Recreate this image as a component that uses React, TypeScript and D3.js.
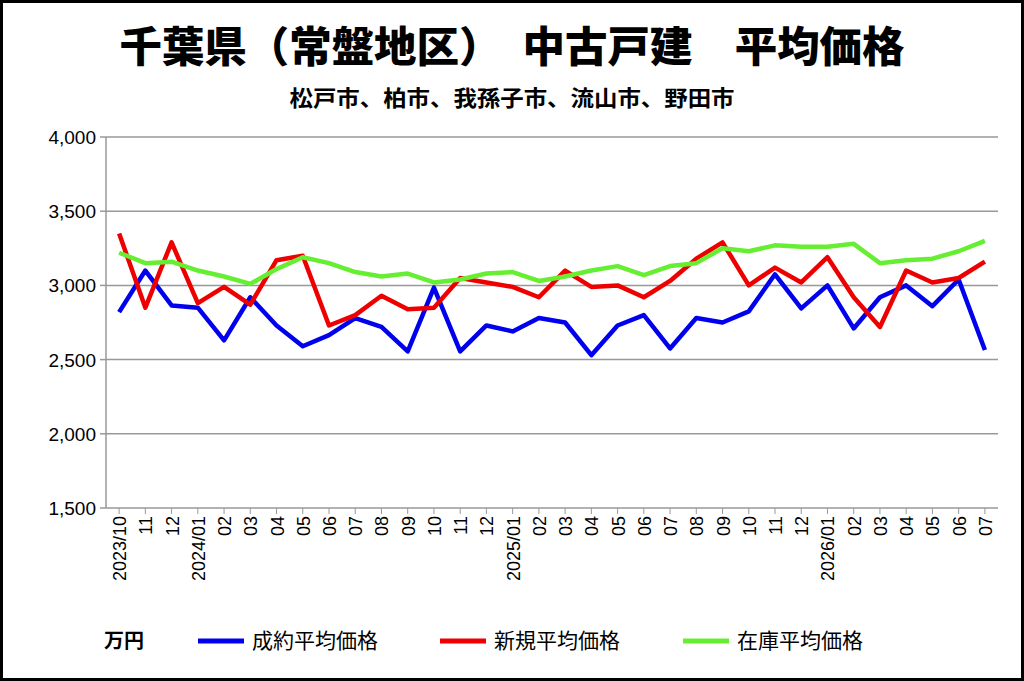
import React from "react";
import * as d3 from "d3";

const months = ["2023/10","11","12","2024/01","02","03","04","05","06","07","08","09","10","11","12","2025/01","02","03","04","05","06","07","08","09","10","11","12","2026/01","02","03","04","05","06","07"];
const seiyaku = [2820,3100,2865,2850,2630,2920,2730,2590,2665,2780,2720,2555,2985,2555,2730,2690,2780,2750,2530,2730,2800,2575,2780,2750,2825,3075,2845,3000,2710,2920,3000,2860,3040,2565];
const shinki = [3350,2850,3290,2880,2990,2870,3170,3200,2730,2800,2930,2840,2850,3050,3020,2990,2920,3100,2990,3000,2920,3030,3180,3290,3000,3120,3020,3190,2920,2720,3100,3020,3050,3160];
const zaiko = [3220,3150,3160,3100,3060,3010,3110,3190,3150,3090,3060,3080,3020,3040,3080,3090,3030,3060,3100,3130,3070,3130,3150,3250,3230,3270,3260,3260,3280,3150,3170,3180,3230,3300];
const yTicks = [1500,2000,2500,3000,3500,4000];
const seriesList = [
  { name: "成約平均価格", values: seiyaku, color: "#0000ee" },
  { name: "新規平均価格", values: shinki, color: "#ee0000" },
  { name: "在庫平均価格", values: zaiko, color: "#66ee33" },
];

export default function App() {
  const W = 1024, H = 681;
  const L = 106, R = 998, T = 137, B = 508;
  const x = d3.scalePoint<number>().domain(months.map((_, i) => i)).range([L, R]).padding(0.5);
  const y = d3.scaleLinear().domain([1500, 4000]).range([B, T]);
  const line = (vals: number[]) => d3.line<number>().x((_, i) => x(i)!).y(v => y(v))(vals)!;
  const fmt = d3.format(",");
  const font = "'Noto Sans CJK JP', 'Noto Sans', sans-serif";
  const legX = [198, 440, 683];
  return (
    <svg width={W} height={H} style={{ position: "absolute", left: 0, top: 0 }} fontFamily={font}>
      <rect x={0} y={0} width={W} height={H} fill="#fff" />
      <rect x={1.5} y={1.5} width={W - 3} height={H - 3} fill="none" stroke="#000" strokeWidth={3} />
      <text x={512} y={62} textAnchor="middle" fontSize={42} fontWeight="900" textLength={785} lengthAdjust="spacingAndGlyphs">千葉県（常盤地区）　中古戸建　平均価格</text>
      <text x={512} y={106} textAnchor="middle" fontSize={22} fontWeight="bold" textLength={445} lengthAdjust="spacingAndGlyphs">松戸市、柏市、我孫子市、流山市、野田市</text>
      {yTicks.map(t => (
        <g key={t}>
          <line x1={L} x2={R} y1={y(t)} y2={y(t)} stroke="#999" strokeWidth={1.5} />
          <line x1={L - 6} x2={L} y1={y(t)} y2={y(t)} stroke="#999" strokeWidth={1.5} />
          <text x={L - 10} y={y(t) + 7} textAnchor="end" fontSize={19} fontFamily="'Liberation Sans', Arial, sans-serif">{fmt(t)}</text>
        </g>
      ))}
      <line x1={L} x2={L} y1={T} y2={B} stroke="#999" strokeWidth={1.5} />
      {months.map((m, i) => (
        <g key={i}>
          <line x1={x(i)!} x2={x(i)!} y1={B} y2={B + 6} stroke="#999" />
          <text transform={`translate(${x(i)! + 7},${B + 8}) rotate(-90)`} textAnchor="end" fontSize={18} fontFamily="'Liberation Sans', Arial, sans-serif">{m}</text>
        </g>
      ))}
      {seriesList.map(s => (
        <path key={s.name} d={line(s.values)} fill="none" stroke={s.color} strokeWidth={4.5} strokeLinejoin="round" />
      ))}
      <text x={104} y={648} fontSize={20} fontWeight="bold">万円</text>
      {seriesList.map((s, i) => (
        <g key={s.name}>
          <line x1={legX[i]} x2={legX[i] + 46} y1={641} y2={641} stroke={s.color} strokeWidth={5} />
          <text x={legX[i] + 54} y={648} fontSize={21}>{s.name}</text>
        </g>
      ))}
    </svg>
  );
}
